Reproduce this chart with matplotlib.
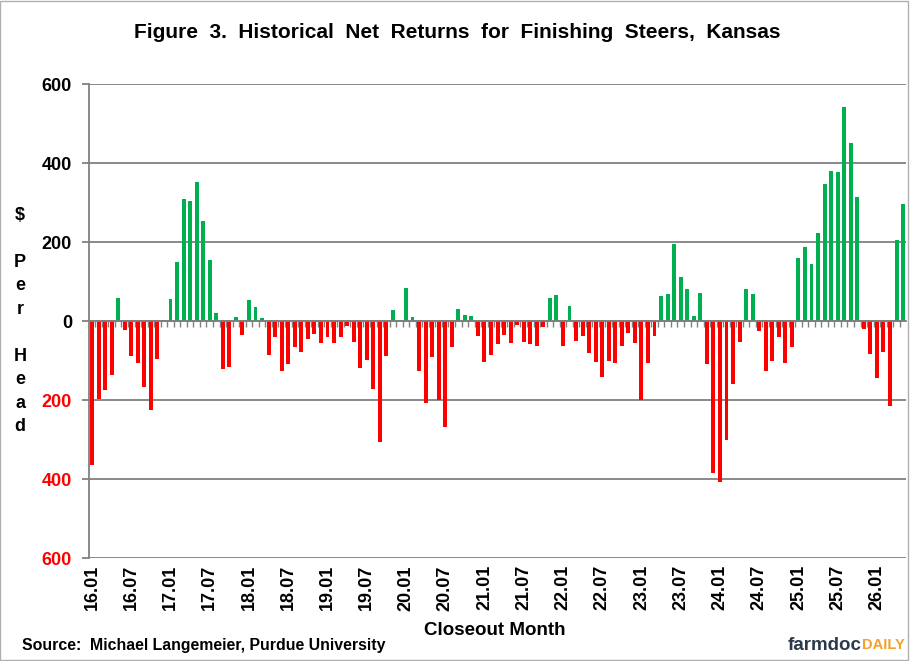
import numpy as np
import matplotlib
matplotlib.use("Agg")
import matplotlib.pyplot as plt

plt.rcParams["font.family"] = ["Liberation Sans", "DejaVu Sans"]
plt.rcParams["font.weight"] = "bold"

# Rendement net mensuel ($ par tête), de 16.01 à 26.05
net_returns = [
    -363, -198, -173, -135, 59, -21, -89, -105, -166, -224, -95, 2,
    57, 150, 310, 305, 353, 254, 155, 21, -121, -116, 11, -35,
    54, 36, 8, -85, -40, -126, -108, -65, -78, -45, -32, -55,
    -40, -55, -40, -12, -52, -118, -98, -171, -305, -88, 29, 4,
    84, 11, -126, -207, -90, -199, -267, -65, 31, 16, 13, -37,
    -103, -85, -57, -35, -55, -9, -52, -57, -62, -14, 59, 67,
    -62, 39, -50, -37, -80, -103, -141, -100, -105, -62, -30, -55,
    -199, -105, -37, 64, 69, 196, 112, 82, 13, 72, -108, -384,
    -407, -300, -159, -52, 82, 69, -24, -126, -100, -40, -105, -65,
    160, 188, 145, 224, 348, 381, 378, 543, 452, 315, -19, -83,
    -143, -78, -214, 206, 297,
]
closeout_months = [f"{16 + i // 12}.{i % 12 + 1:02d}" for i in range(len(net_returns))]
tick_labels = [
    "16.01", "16.07", "17.01", "17.07", "18.01", "18.07", "19.01",
    "19.07", "20.01", "20.07", "21.01", "21.07", "22.01", "22.07",
    "23.01", "23.07", "24.01", "24.07", "25.01", "25.07", "26.01",
]
y_ticks = [-600, -400, -200, 0, 200, 400, 600]

GREEN = "#00B050"
RED = "#FF0000"
GRAY = "#808080"

fig = plt.figure(figsize=(9.11, 6.61), dpi=100)
ax = fig.add_axes([0.0974, 0.1554, 0.8975, 0.7171])

x = np.arange(len(net_returns))
values = np.array(net_returns)
colors = np.where(values > 3, GREEN, RED)
ax.bar(x, values, width=0.6, color=colors, zorder=3)

ax.set_xlim(-0.5, len(x) - 0.5)
ax.set_ylim(-600, 600)

# Axe horizontal à zéro, graduations entre les mois
for side in ["top", "right"]:
    ax.spines[side].set_visible(False)
ax.spines["bottom"].set_position(("data", 0))
ax.spines["bottom"].set_color(GRAY)
ax.spines["bottom"].set_linewidth(1.3)
ax.spines["bottom"].set_zorder(4)
ax.spines["left"].set_color(GRAY)
ax.spines["left"].set_linewidth(1.3)
ax.set_xticks([])
ax.set_xticks(np.arange(0.5, len(x) - 1), minor=True)
ax.tick_params(axis="x", which="minor", length=4, width=1, color=GRAY, direction="out")

# Étiquettes des mois en bas
tick_pos = [closeout_months.index(t) for t in tick_labels]
sec = ax.secondary_xaxis("bottom")
sec.set_ticks(tick_pos, labels=tick_labels)
sec.tick_params(length=0, pad=5, labelsize=13, labelrotation=90)
sec.spines["bottom"].set_visible(False)

ax.set_yticks(y_ticks, labels=[str(abs(v)) for v in y_ticks])
ax.tick_params(axis="y", length=5, width=1.3, color=GRAY, labelsize=13, pad=7)
for lab, v in zip(ax.get_yticklabels(), y_ticks):
    lab.set_color(RED if v < 0 else "black")
ax.yaxis.grid(True, color=GRAY, lw=1.3)

fig.text(0.502, 0.951, "Figure  3.  Historical  Net  Returns  for  Finishing  Steers,  Kansas",
         ha="center", va="center", fontsize=15)
fig.text(0.022, 0.514, "\\$\n\nP\ne\nr\n\nH\ne\na\nd", ha="center", va="center",
         fontsize=13, linespacing=1.5)
fig.text(0.543, 0.0454, "Closeout Month", ha="center", va="center", fontsize=13.5)
fig.text(0.024, 0.0242, "Source:  Michael Langemeier, Purdue University",
         ha="left", va="center", fontsize=11.4)
fig.text(0.946, 0.0242, "farmdoc", ha="right", va="center", fontsize=13.5, color="#2b3a4a")
fig.text(0.946, 0.0242, "DAILY", ha="left", va="center", fontsize=10.5, color="#f5a02a")

fig.add_artist(plt.Rectangle((0.0005, 0.0015), 908 / 911, 0.997, transform=fig.transFigure,
                             fill=False, edgecolor="#b0b0b0", lw=1))

fig.savefig("out.png", dpi=100)
